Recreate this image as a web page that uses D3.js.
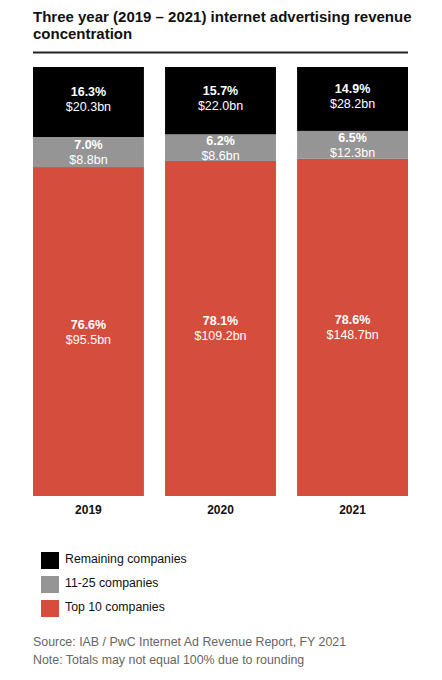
<!DOCTYPE html>
<html>
<head>
<meta charset="utf-8">
<script src="https://cdn.jsdelivr.net/npm/d3@7"></script>
<style>
  body { margin: 0; background: #fff; }
  text { font-family: "Liberation Sans", Arial, sans-serif; }
</style>
</head>
<body>
<div id="chart"></div>
<script>
// data
const years = ["2019", "2020", "2021"];
const top10Pct = [76.6, 78.1, 78.6];
const top10Bn = [95.5, 109.2, 148.7];
const midPct = [7.0, 6.2, 6.5];
const midBn = [8.8, 8.6, 12.3];
const restPct = [16.3, 15.7, 14.9];
const restBn = [20.3, 22.0, 28.2];
const seriesKeys = ["top10", "mid", "rest"];
const seriesNames = ["Top 10 companies", "11-25 companies", "Remaining companies"];
const seriesColors = ["#d54d3d", "#959595", "#000000"];

const width = 442, height = 680;
const margin = {top: 67, right: 34, bottom: 184, left: 33};

const rows = years.map((y, i) => ({
  year: y,
  top10: top10Pct[i], mid: midPct[i], rest: restPct[i],
  top10Bn: top10Bn[i], midBn: midBn[i], restBn: restBn[i]
}));

const svg = d3.select("#chart")
  .append("svg")
    .attr("width", width)
    .attr("height", height);

// title
const title = svg.append("text")
  .attr("x", margin.left)
  .attr("y", 21.5)
  .attr("font-size", 15)
  .attr("font-weight", "bold")
  .attr("fill", "#111");
title.append("tspan").text("Three year (2019 \u2013 2021) internet advertising revenue");
title.append("tspan").attr("x", margin.left).attr("dy", 17).text("concentration");

svg.append("line")
  .attr("x1", margin.left).attr("x2", width - margin.right)
  .attr("y1", 52.5).attr("y2", 52.5)
  .attr("stroke", "#222")
  .attr("stroke-width", 2);

var x = d3.scaleBand()
  .domain(years)
  .range([margin.left, width - margin.right])
  .paddingInner(0.16)
  .paddingOuter(0);

var y = d3.scaleLinear()
  .domain([0, 1])
  .range([height - margin.bottom, margin.top]);

const stack = d3.stack()
  .keys(seriesKeys)
  .offset(d3.stackOffsetExpand);
const stacked = stack(rows);

const color = d3.scaleOrdinal().domain(seriesKeys).range(seriesColors);

const layers = svg.append("g")
  .selectAll("g")
  .data(stacked)
  .enter()
  .append("g")
    .attr("fill", d => color(d.key));

layers.selectAll("rect")
  .data(d => d.map(p => Object.assign(p, {key: d.key})))
  .enter()
  .append("rect")
    .attr("x", d => x(d.data.year))
    .attr("y", d => y(d[1]))
    .attr("width", x.bandwidth())
    .attr("height", d => y(d[0]) - y(d[1]));

// labels in segments
const labels = layers.selectAll("g.lab")
  .data(d => d)
  .enter()
  .append("g")
    .attr("class", "lab")
    .attr("transform", d => {
      let cy = (y(d[0]) + y(d[1])) / 2;
      if (d.key === "rest") cy -= 3;
      return "translate(" + (x(d.data.year) + x.bandwidth() / 2) + "," + cy + ")";
    });

labels.append("text")
  .attr("text-anchor", "middle")
  .attr("y", -3)
  .attr("font-size", 12.5)
  .attr("font-weight", "bold")
  .attr("fill", "#fff")
  .text(d => d.data[d.key].toFixed(1) + "%");

labels.append("text")
  .attr("text-anchor", "middle")
  .attr("y", 12)
  .attr("font-size", 12.5)
  .attr("fill", "#fff")
  .text(d => "$" + d.data[d.key + "Bn"].toFixed(1) + "bn");

// x axis labels
svg.append("g")
  .selectAll("text")
  .data(years)
  .enter()
  .append("text")
    .attr("x", d => x(d) + x.bandwidth() / 2)
    .attr("y", 514)
    .attr("text-anchor", "middle")
    .attr("font-size", 12)
    .attr("font-weight", "bold")
    .attr("fill", "#111")
    .text(d => d);

// legend
const legendOrder = [2, 1, 0];
const legend = svg.append("g")
  .selectAll("g")
  .data(legendOrder)
  .enter()
  .append("g")
    .attr("transform", (d, i) => "translate(41," + (552 + i * 24) + ")");

legend.append("rect")
  .attr("width", 18)
  .attr("height", 17)
  .attr("fill", d => seriesColors[d]);

legend.append("text")
  .attr("x", 24)
  .attr("y", 10.5)
  .attr("font-size", 12.3)
  .attr("fill", "#111")
  .text(d => seriesNames[d]);

// footnotes
svg.append("text")
  .attr("x", margin.left)
  .attr("y", 646)
  .attr("font-size", 12.4)
  .attr("fill", "#666")
  .text("Source: IAB / PwC Internet Ad Revenue Report, FY 2021");

svg.append("text")
  .attr("x", margin.left)
  .attr("y", 664)
  .attr("font-size", 12.4)
  .attr("fill", "#666")
  .text("Note: Totals may not equal 100% due to rounding");
</script>
</body>
</html>
